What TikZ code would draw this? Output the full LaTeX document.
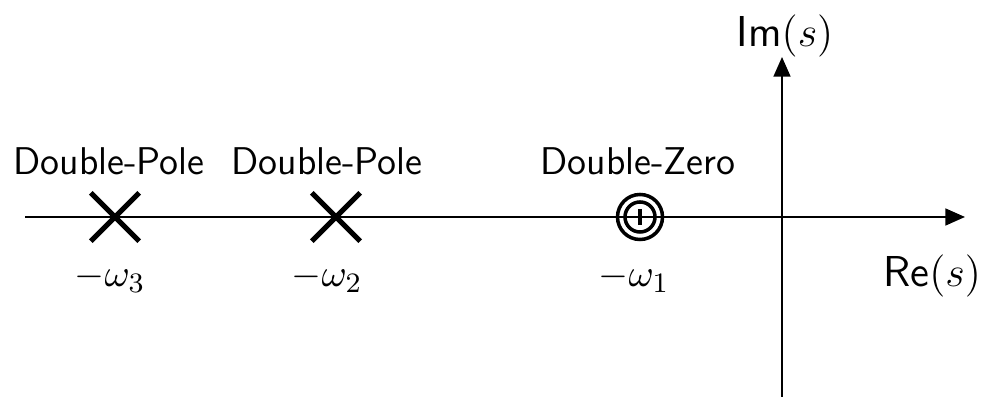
\documentclass[tikz,border=0pt]{standalone}
\usepackage{amsmath, amssymb}
\usepackage{tikz}
\usetikzlibrary{arrows.meta, shapes.misc}

\tikzset{
  axisline/.style={line width=0.6pt, -{Triangle[length=5.6pt,width=4.8pt]}},
  lbl/.style={font=\sffamily\fontsize{11}{13}\selectfont, anchor=base, inner sep=0pt},
  axlbl/.style={font=\sffamily\fontsize{12.3}{14}\selectfont, anchor=base, inner sep=0pt},
  polemark/.style={cross out, draw, line width=1.5pt, minimum size=0.43cm, inner sep=0pt},
  zeroring/.style={circle, draw, line width=1pt, inner sep=0pt}
}

\begin{document}
\begin{tikzpicture}[x=0.01cm, y=-0.01cm]
      \useasboundingbox (0,0) rectangle (982,401);
      % axes
      \coordinate (reL) at (25,217);
      \coordinate (reR) at (965,217);
      \coordinate (imB) at (782,397);
      \coordinate (imT) at (782,57);
      \draw[axisline] (reL) -- (reR);
      \draw[axisline] (imB) -- (imT);
      \node[axlbl] (relbl) at (932,287) {Re$(s)$};
      \node[axlbl] (imlbl) at (785,47) {Im$(s)$};
      % poles and zero
      \node[polemark] (pole3) at (115,217) {};
      \node[polemark] (pole2) at (336,217) {};
      \node[zeroring, minimum size=0.45cm] (zero1) at (640,217) {};
      \node[zeroring, minimum size=0.3cm] (zero1in) at (zero1) {};
      \draw[line width=0.9pt] ([yshift=0.08cm]zero1.center) -- ([yshift=-0.08cm]zero1.center);
      % labels
      \node[lbl] (dp3) at (109,175) {Double-Pole};
      \node[lbl] (dp2) at (327,175) {Double-Pole};
      \node[lbl] (dz1) at (638,175) {Double-Zero};
      \node[lbl] (w3) at (110,287) {$-\omega_3$};
      \node[lbl] (w2) at (327,287) {$-\omega_2$};
      \node[lbl] (w1) at (634,287) {$-\omega_1$};
    \end{tikzpicture}
\end{document}
